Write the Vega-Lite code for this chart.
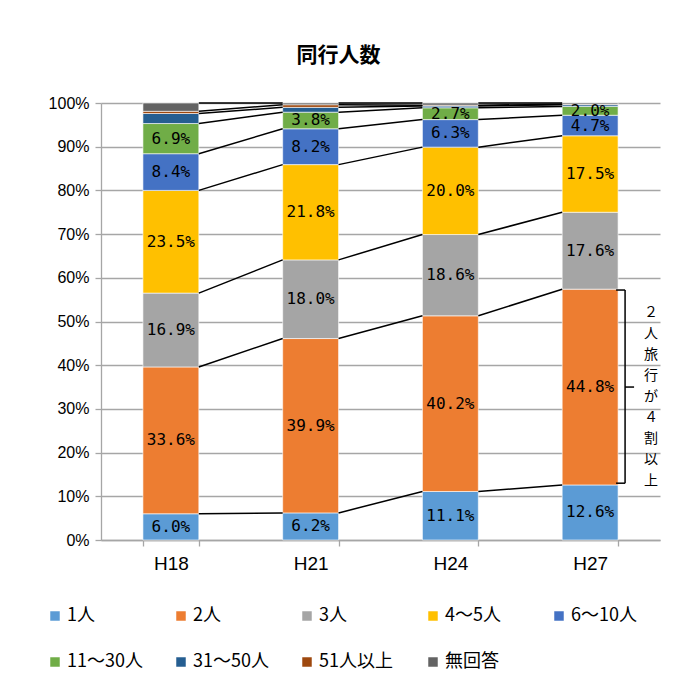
{
  "$schema": "https://vega.github.io/schema/vega-lite/v6.json",
  "autosize": {"type": "none"},
  "width": 559,
  "height": 437,
  "padding": {"left": 101, "top": 103, "right": 21, "bottom": 144},
  "background": "white",
  "title": {"text": "同行人数", "font": "Noto Sans CJK JP", "fontSize": 21, "fontWeight": "bold", "color": "#000000", "dx": -42, "offset": 29},
  "config": {"view": {"stroke": null}},
  "data": {"values": [
    {"year": "H18", "cat": "1人", "order": 1, "value": 0.060},
    {"year": "H18", "cat": "2人", "order": 2, "value": 0.336},
    {"year": "H18", "cat": "3人", "order": 3, "value": 0.169},
    {"year": "H18", "cat": "4～5人", "order": 4, "value": 0.235},
    {"year": "H18", "cat": "6～10人", "order": 5, "value": 0.084},
    {"year": "H18", "cat": "11～30人", "order": 6, "value": 0.069},
    {"year": "H18", "cat": "31～50人", "order": 7, "value": 0.023},
    {"year": "H18", "cat": "51人以上", "order": 8, "value": 0.005},
    {"year": "H18", "cat": "無回答", "order": 9, "value": 0.019},
    {"year": "H21", "cat": "1人", "order": 1, "value": 0.062},
    {"year": "H21", "cat": "2人", "order": 2, "value": 0.399},
    {"year": "H21", "cat": "3人", "order": 3, "value": 0.180},
    {"year": "H21", "cat": "4～5人", "order": 4, "value": 0.218},
    {"year": "H21", "cat": "6～10人", "order": 5, "value": 0.082},
    {"year": "H21", "cat": "11～30人", "order": 6, "value": 0.038},
    {"year": "H21", "cat": "31～50人", "order": 7, "value": 0.011},
    {"year": "H21", "cat": "51人以上", "order": 8, "value": 0.006},
    {"year": "H21", "cat": "無回答", "order": 9, "value": 0.004},
    {"year": "H24", "cat": "1人", "order": 1, "value": 0.111},
    {"year": "H24", "cat": "2人", "order": 2, "value": 0.402},
    {"year": "H24", "cat": "3人", "order": 3, "value": 0.186},
    {"year": "H24", "cat": "4～5人", "order": 4, "value": 0.200},
    {"year": "H24", "cat": "6～10人", "order": 5, "value": 0.063},
    {"year": "H24", "cat": "11～30人", "order": 6, "value": 0.027},
    {"year": "H24", "cat": "31～50人", "order": 7, "value": 0.004},
    {"year": "H24", "cat": "51人以上", "order": 8, "value": 0.002},
    {"year": "H24", "cat": "無回答", "order": 9, "value": 0.005},
    {"year": "H27", "cat": "1人", "order": 1, "value": 0.126},
    {"year": "H27", "cat": "2人", "order": 2, "value": 0.448},
    {"year": "H27", "cat": "3人", "order": 3, "value": 0.176},
    {"year": "H27", "cat": "4～5人", "order": 4, "value": 0.175},
    {"year": "H27", "cat": "6～10人", "order": 5, "value": 0.047},
    {"year": "H27", "cat": "11～30人", "order": 6, "value": 0.020},
    {"year": "H27", "cat": "31～50人", "order": 7, "value": 0.004},
    {"year": "H27", "cat": "51人以上", "order": 8, "value": 0.001},
    {"year": "H27", "cat": "無回答", "order": 9, "value": 0.003}
  ]},
  "encoding": {
    "x": {
      "field": "year", "type": "nominal",
      "scale": {"paddingInner": 0.6, "paddingOuter": 0.3},
      "axis": {"title": null, "labelAngle": 0, "labelFont": "Liberation Sans", "labelFontSize": 19, "labelColor": "#000000", "labelPadding": 8, "tickBand": "extent", "tickSize": 6, "tickColor": "#A6A6A6", "domainColor": "#A6A6A6", "domainWidth": 1.3, "tickWidth": 1.3}
    }
  },
  "layer": [
    {
      "mark": {"type": "bar", "stroke": "white", "strokeWidth": 0.6},
      "encoding": {
        "y": {
          "field": "value", "type": "quantitative", "stack": "zero",
          "scale": {"domain": [0, 1]},
          "axis": {"title": null, "format": ".0%", "values": [0, 0.1, 0.2, 0.3, 0.4, 0.5, 0.6, 0.7, 0.8, 0.9, 1], "grid": true, "gridColor": "#A6A6A6", "gridWidth": 1.3, "domainColor": "#A6A6A6", "domainWidth": 1.3, "tickColor": "#A6A6A6", "tickWidth": 1.3, "tickSize": 6, "labelFont": "Liberation Sans", "labelFontSize": 16, "labelColor": "#000000", "labelPadding": 6}
        },
        "color": {
          "field": "cat", "type": "nominal",
          "scale": {
            "domain": ["1人", "2人", "3人", "4～5人", "6～10人", "11～30人", "31～50人", "51人以上", "無回答"],
            "range": ["#5B9BD5", "#ED7D31", "#A5A5A5", "#FFC000", "#4472C4", "#70AD47", "#255E91", "#9E480E", "#636363"]
          },
          "legend": {"title": null, "orient": "none", "legendX": -55, "legendY": 504, "direction": "horizontal", "columns": 5, "gridAlign": "all", "columnPadding": 29, "rowPadding": 28, "padding": 0, "symbolType": "square", "symbolSize": 90, "symbolStrokeWidth": 0, "labelFont": "Noto Sans CJK JP", "labelFontSize": 18, "labelColor": "#000000", "labelOffset": 3, "labelLimit": 200}
        },
        "order": {"field": "order", "type": "quantitative"}
      }
    },
    {
      "transform": [
        {"window": [{"op": "sum", "field": "value", "as": "cum"}], "groupby": ["year"], "sort": [{"field": "order"}], "frame": [null, 0]},
        {"window": [{"op": "lead", "field": "cum", "as": "cum2"}, {"op": "lead", "field": "year", "as": "year2"}], "groupby": ["cat"], "sort": [{"field": "year"}]},
        {"filter": "datum.year2 != null"}
      ],
      "mark": {"type": "rule", "color": "#000000", "strokeWidth": 1.5},
      "encoding": {
        "x": {"field": "year", "type": "nominal", "bandPosition": 1},
        "x2": {"field": "year2", "bandPosition": 0},
        "y": {"field": "cum", "type": "quantitative"},
        "y2": {"field": "cum2"}
      }
    },
    {
      "transform": [
        {"stack": "value", "groupby": ["year"], "sort": [{"field": "order"}], "as": ["v0", "v1"]},
        {"filter": "datum.order <= 6"},
        {"fold": ["v0", "v1"], "as": ["k", "edge"]},
        {"aggregate": [{"op": "mean", "field": "edge", "as": "mid"}], "groupby": ["year", "cat", "order", "value"]}
      ],
      "mark": {"type": "text", "font": "DejaVu Sans Mono", "fontSize": 16, "color": "#000000"},
      "encoding": {
        "y": {"field": "mid", "type": "quantitative"},
        "text": {"field": "value", "type": "quantitative", "format": ".1%"}
      }
    },
    {
      "data": {"values": [{}]},
      "mark": {"type": "rule", "color": "#000000", "strokeWidth": 1.5, "xOffset": 7},
      "encoding": {
        "x": {"datum": "H27", "type": "nominal", "bandPosition": 1},
        "y": {"datum": 0.13, "type": "quantitative"},
        "y2": {"datum": 0.572}
      }
    },
    {
      "data": {"values": [{"yv": 0.13}, {"yv": 0.572}]},
      "mark": {"type": "rule", "color": "#000000", "strokeWidth": 1.5, "xOffset": -2, "x2Offset": 7},
      "encoding": {
        "x": {"datum": "H27", "type": "nominal", "bandPosition": 1},
        "x2": {"datum": "H27", "bandPosition": 1},
        "y": {"field": "yv", "type": "quantitative"}
      }
    },
    {
      "data": {"values": [{}]},
      "mark": {"type": "rule", "color": "#000000", "strokeWidth": 1.5, "xOffset": 7, "x2Offset": 16},
      "encoding": {
        "x": {"datum": "H27", "type": "nominal", "bandPosition": 1},
        "x2": {"datum": "H27", "bandPosition": 1},
        "y": {"datum": 0.35, "type": "quantitative"}
      }
    },
    {
      "data": {"values": [{}]},
      "mark": {"type": "text", "text": "２\n人\n旅\n行\nが\n４\n割\n以\n上", "lineBreak": "\n", "lineHeight": 21, "font": "Noto Sans CJK JP", "fontSize": 14, "color": "#000000", "baseline": "middle", "align": "center", "dx": 33},
      "encoding": {
        "x": {"datum": "H27", "type": "nominal", "bandPosition": 1},
        "y": {"datum": 0.519, "type": "quantitative"}
      }
    }
  ]
}
